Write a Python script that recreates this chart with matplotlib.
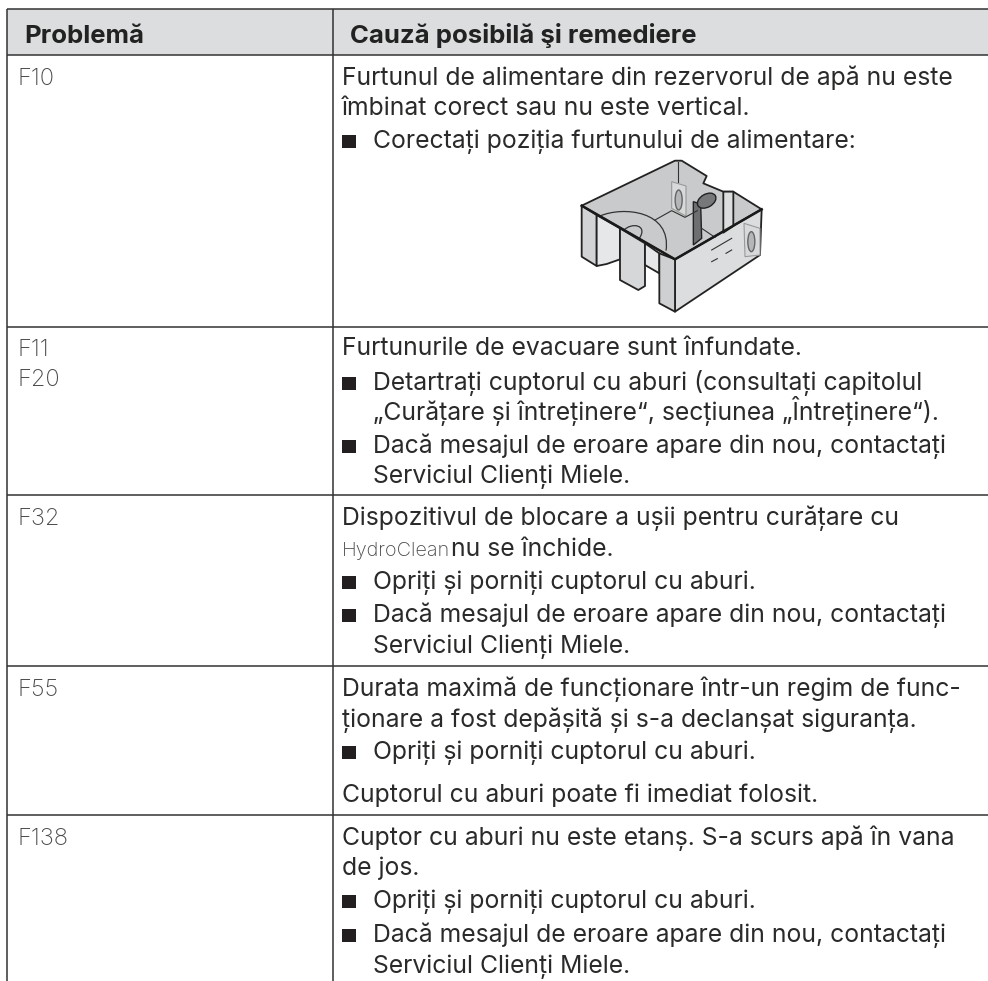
import matplotlib
matplotlib.use("Agg")
import matplotlib.pyplot as plt
from matplotlib.patches import Rectangle, Polygon, Ellipse, PathPatch
from matplotlib.path import Path

W, H = 988, 981
INK = "#2b2a29"
LINE = "#333333"

# Table content
col_headers = ["Problemă", "Cauză posibilă şi remediere"]
row_codes = [["F10"], ["F11", "F20"], ["F32"], ["F55"], ["F138"]]
row_tops = [9, 55, 327, 495, 666, 815]
code_baselines = [[85], [356, 386], [525], [696], [845]]

# text, kind (p = plain, b = bullet, c = continuation of a bullet), baseline
cause_lines = [
    ("Furtunul de alimentare din rezervorul de apă nu este", "p", 85),
    ("îmbinat corect sau nu este vertical.", "p", 115),
    ("Corectați poziția furtunului de alimentare:", "b", 148),
    ("Furtunurile de evacuare sunt înfundate.", "p", 355),
    ("Detartrați cuptorul cu aburi (consultați capitolul", "b", 390),
    ("„Curățare și întreținere“, secțiunea „Întreținere“).", "c", 420),
    ("Dacă mesajul de eroare apare din nou, contactați", "b", 453),
    ("Serviciul Clienți Miele.", "c", 483),
    ("Dispozitivul de blocare a ușii pentru curățare cu", "p", 525),
    ("Opriți și porniți cuptorul cu aburi.", "b", 589),
    ("Dacă mesajul de eroare apare din nou, contactați", "b", 622),
    ("Serviciul Clienți Miele.", "c", 653),
    ("Durata maximă de funcționare într-un regim de func-", "p", 696),
    ("ționare a fost depășită și s-a declanșat siguranța.", "p", 727),
    ("Opriți și porniți cuptorul cu aburi.", "b", 759),
    ("Cuptorul cu aburi poate fi imediat folosit.", "p", 802),
    ("Cuptor cu aburi nu este etanș. S-a scurs apă în vana", "p", 845),
    ("de jos.", "p", 875),
    ("Opriți și porniți cuptorul cu aburi.", "b", 908),
    ("Dacă mesajul de eroare apare din nou, contactați", "b", 942),
    ("Serviciul Clienți Miele.", "c", 973),
]

tank_fills = [
    ([(65,197),(345,62),(365,62),(440,108),(430,130),(490,155),(520,155),(605,208),(345,358)], "#c9cacb"),
    ([(345,358),(605,208),(600,345),(345,515)], "#dcddde"),
    ([(65,197),(110,225),(110,378),(65,350)], "#d2d3d4"),
    ([(110,225),(180,265),(180,358),(140,372),(110,378)], "#e6e7e8"),
    ([(180,265),(255,310),(255,438),(235,450),(180,420)], "#d6d7d8"),
    ([(255,310),(298,340),(298,400),(255,375)], "#e6e7e8"),
    ([(298,340),(345,358),(345,515),(298,490)], "#cfd0d1"),
    ([(490,155),(520,155),(520,258),(490,278)], "#dcddde"),
]
tank_lines = [
    [(285,240),(335,212),(375,232),(412,212)],
    [(425,265),(465,292)],
    [(355,65),(355,125)],
    [(455,330),(515,295)],
    [(455,365),(472,356)],
    [(498,340),(515,330)],
]
tank_curves = [
    [(120,228),(190,198),(335,212),(318,332)],
    [(190,272),(215,245),(265,255),(238,295)],
]
holders = [
    [(335,125),(378,138),(378,228),(335,205)],
    [(552,250),(600,265),(600,345),(555,350)],
]
hose = [(400,185),(422,192),(425,295),(400,315)]

fig = plt.figure(figsize=(W / 100, H / 100), dpi=100)
ax = fig.add_axes([0, 0, 1, 1])
ax.set_xlim(0, W)
ax.set_ylim(H, 0)
ax.axis("off")
plt.rcParams["font.family"] = ["Inter", "Noto Sans", "DejaVu Sans"]

x_left, x_mid = 7, 333
x_text, x_bullet_text = 342, 373
fs = 17.8


def tp(pts):
    return [(560 + x / 3, 140 + y / 3) for x, y in pts]


# header band
ax.add_patch(Rectangle((x_left, row_tops[0]), W - x_left, row_tops[1] - row_tops[0], color="#dcddde", lw=0))
ax.text(24, 43, col_headers[0], fontsize=18.5, fontweight="bold", color="#222222")
ax.text(350, 43, col_headers[1], fontsize=18.5, fontweight="bold", color="#222222")

# grid lines
for y in row_tops:
    ax.plot([x_left, W], [y, y], color=LINE, lw=1.1, solid_capstyle="butt")
ax.plot([x_left, x_left], [row_tops[0], H], color=LINE, lw=1.1, solid_capstyle="butt")
ax.plot([x_mid, x_mid], [row_tops[0], H], color=LINE, lw=1.1, solid_capstyle="butt")

for codes, ys in zip(row_codes, code_baselines):
    for c, y in zip(codes, ys):
        ax.text(17, y, c, fontsize=17, fontweight="light", color="#4a4a4a")

for line, kind, y in cause_lines:
    if kind == "b":
        ax.add_patch(Rectangle((x_text, y - 13), 14, 13, color="#231f20", lw=0))
    ax.text(x_text if kind == "p" else x_bullet_text, y, line, fontsize=fs, color=INK)

ax.text(x_text, 556, "HydroClean", fontsize=14.3, fontweight="light", color="#4a4a4a")
ax.text(451, 556, "nu se închide.", fontsize=fs, color=INK)

# tank drawing
for pts, c in tank_fills:
    ax.add_patch(Polygon(tp(pts), closed=True, facecolor=c, edgecolor="#222222", lw=1.3, joinstyle="round"))
for pts in tank_curves:
    codes = [Path.MOVETO, Path.CURVE4, Path.CURVE4, Path.CURVE4]
    ax.add_patch(PathPatch(Path(tp(pts), codes), facecolor="none", edgecolor="#333333", lw=0.9))
for pts in tank_lines:
    xs, ys = zip(*tp(pts))
    ax.plot(xs, ys, color="#333333", lw=0.8)
for pts in holders:
    ax.add_patch(Polygon(tp(pts), closed=True, facecolor="#d8d9da", edgecolor="#999999", lw=0.8))
for cx, cy in [(356, 180), (574, 305)]:
    ax.add_patch(Ellipse(tp([(cx, cy)])[0], 7, 20, facecolor="#b5b6b7", edgecolor="#666666", lw=1.0))
ax.add_patch(Polygon(tp(hose), closed=True, facecolor="#6e6f70", edgecolor="#222222", lw=1.0))
ax.add_patch(Ellipse(tp([(440, 182)])[0], 20, 13, angle=-30, facecolor="#77787a", edgecolor="#222222", lw=1.0))
# thick front rim
xs, ys = zip(*tp([(65, 197), (345, 358), (605, 208)]))
ax.plot(xs, ys, color="#1a1a1a", lw=1.8)

fig.savefig("out.png", dpi=100)
